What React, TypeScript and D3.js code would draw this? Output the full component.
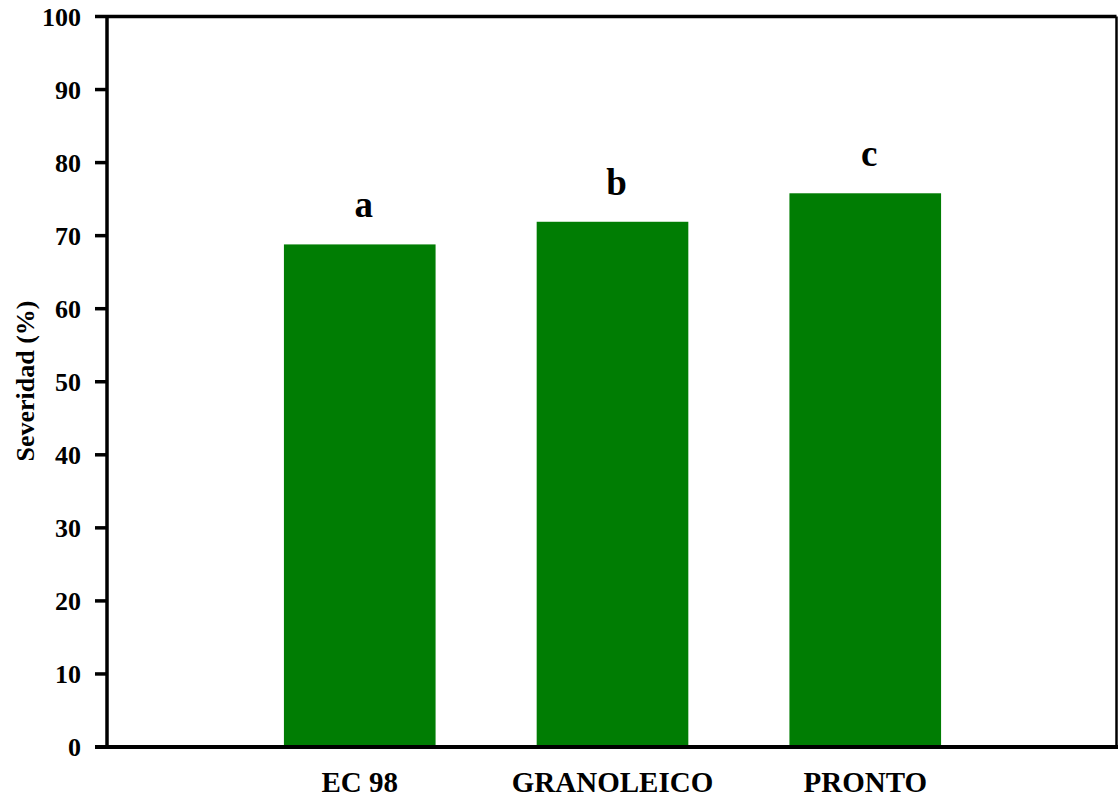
import React from "react";
import * as d3 from "d3";

// Cultivars, mean severity (%) and significance letters
const cultivars = ["EC 98", "GRANOLEICO", "PRONTO"];
const severity = [68.8, 71.9, 75.8];
const letters = ["a", "b", "c"];
const yTicks = [0, 10, 20, 30, 40, 50, 60, 70, 80, 90, 100];

const W = 1118;
const H = 798;
const FONT = "'Liberation Serif', 'Times New Roman', serif";

export default function App() {
  const left = 107;
  const right = 1118;
  const top = 16.5;
  const bottom = 747;

  const x = d3.scaleLinear().domain([0, 4]).range([left, right]);
  const y = d3.scaleLinear().domain([0, 100]).range([bottom, top]);
  const barW = x(0.6) - x(0);

  return (
    <svg
      width={W}
      height={H}
      style={{ position: "absolute", left: 0, top: 0, background: "#fff" }}
      fontFamily={FONT}
      fontWeight="bold"
    >
      {/* bars */}
      {severity.map((v, i) => (
        <rect
          key={cultivars[i]}
          x={x(i + 1) - barW / 2}
          y={y(v)}
          width={barW}
          height={y(0) - y(v)}
          fill="#007d03"
        />
      ))}

      {/* significance letters */}
      {severity.map((v, i) => (
        <text
          key={letters[i]}
          x={x(i + 1) + 4}
          y={y(v) - 27}
          textAnchor="middle"
          fontSize={37}
          fill="#000"
        >
          {letters[i]}
        </text>
      ))}

      {/* frame */}
      <line x1={left} x2={1116.5} y1={top} y2={top} stroke="#000" strokeWidth={3.5} />
      <line x1={1116.5} x2={1116.5} y1={top} y2={bottom} stroke="#000" strokeWidth={2.5} />
      <line x1={left} x2={left} y1={top - 1.5} y2={bottom + 2} stroke="#000" strokeWidth={3.5} />
      <line x1={95} x2={1118} y1={bottom} y2={bottom} stroke="#000" strokeWidth={4} />

      {/* y ticks and labels */}
      {yTicks.map((t) => (
        <g key={t}>
          <line x1={95} x2={left} y1={y(t)} y2={y(t)} stroke="#000" strokeWidth={3.5} />
          <text
            x={81}
            y={y(t)}
            dy="0.36em"
            textAnchor="end"
            fontSize={26}
            fill="#000"
          >
            {t}
          </text>
        </g>
      ))}

      {/* category labels */}
      {cultivars.map((c, i) => (
        <text
          key={c}
          x={x(i + 1)}
          y={792}
          textAnchor="middle"
          fontSize={29}
          fill="#000"
        >
          {c}
        </text>
      ))}

      {/* y axis title */}
      <text
        transform={`translate(34, 381) rotate(-90)`}
        textAnchor="middle"
        fontSize={26}
        fill="#000"
      >
        Severidad (%)
      </text>
    </svg>
  );
}
